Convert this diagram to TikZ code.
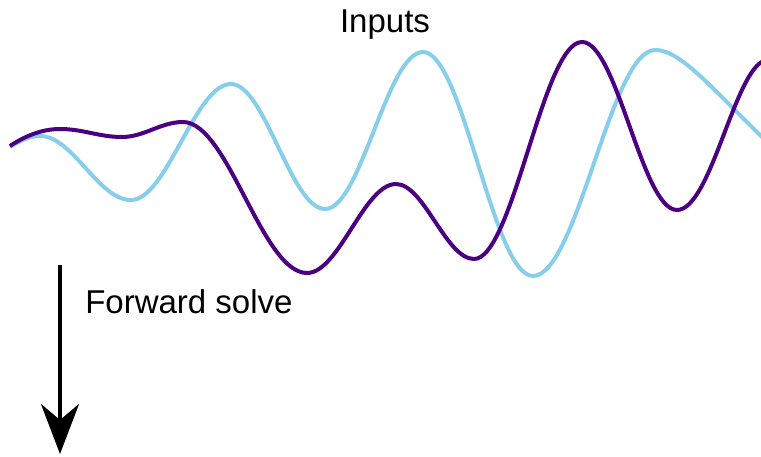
\documentclass[tikz,border=0pt]{standalone}
\usepackage{fontspec}
\setmainfont{Liberation Sans}
\usetikzlibrary{arrows.meta}
\definecolor{skyline}{RGB}{135,206,235}
\definecolor{indigoline}{RGB}{75,0,130}
\tikzset{
  wave/.style={line width=3pt, line join=round},
  label/.style={inner sep=0pt, font=\fontsize{24.75}{30}\selectfont},
  solvearrow/.style={line width=3pt, -{Stealth[length=37.5pt, width=28.5pt, inset=12pt]}}
}
\begin{document}
\begin{tikzpicture}[x=0.75pt, y=-0.75pt]
\useasboundingbox (0,0) rectangle (761,457);
\begin{scope}
\clip (0,0) rectangle (761,457);
% light blue wave
\draw[wave, skyline] (10,147) .. controls (20,141) and (29,136) .. (40,136)
  .. controls (73,136) and (98,200) .. (131,200)
  .. controls (167,200) and (195,84) .. (231,84)
  .. controls (265,84) and (291,209) .. (325,209)
  .. controls (361,209) and (387,52) .. (423,52)
  .. controls (463,52) and (493,276) .. (533,276)
  .. controls (577,276) and (611,50) .. (655,50)
  .. controls (685,50) and (720,100) .. (800,173);
% indigo wave
\draw[wave, indigoline] (10,146) .. controls (25,136) and (42,129) .. (60,129)
  .. controls (83,129) and (99,137) .. (122,137)
  .. controls (144,137) and (161,122) .. (183,122)
  .. controls (228,122) and (262,273) .. (307,273)
  .. controls (339,273) and (364,184) .. (396,184)
  .. controls (424,184) and (446,259) .. (474,259)
  .. controls (513,259) and (543,42) .. (582,42)
  .. controls (617,42) and (642,210) .. (677,210)
  .. controls (712,210) and (736,60) .. (768,60)
  .. controls (780,60) and (790,65) .. (800,70);
\end{scope}
\node[label, anchor=base] (inputs) at (385,32) {Inputs};
\node[label, anchor=base west] (fwd) at (85,313) {Forward solve};
\coordinate (arrowstart) at (60,265);
\coordinate (arrowend) at (60,454);
\draw[solvearrow] (arrowstart) -- (arrowend);
\end{tikzpicture}
\end{document}
